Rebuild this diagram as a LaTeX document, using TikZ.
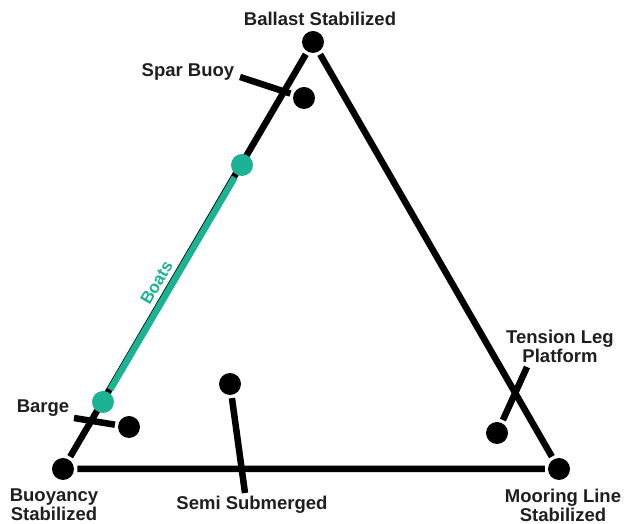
\documentclass[tikz,border=0pt]{standalone}
\usepackage{fontspec}
\setmainfont{Liberation Sans}
\definecolor{boatgreen}{RGB}{27,179,148}

\begin{document}
\begin{tikzpicture}[x=1pt, y=1pt, line width=6.5pt, dot/.style = {circle, fill, inner sep=0pt, minimum size=22pt}, lbl/.style = {font=\fontsize{18.5}{19}\selectfont\bfseries, align=center, text=black!88, inner sep=0pt}]
    \useasboundingbox (0,0) rectangle (624,524);
    % corners of the triangle
    \node[dot] (ballast) at (313,482) {};
    \node[dot] (buoyancy) at (63,55) {};
    \node[dot] (mooring) at (559,55) {};
    \draw (buoyancy) -- (ballast) -- (mooring) -- (buoyancy);
    \node[lbl] (ballastlbl) at (320,505) {Ballast Stabilized};
    \node[lbl] (buoyancylbl) at (54,19) {Buoyancy\\Stabilized};
    \node[lbl] (mooringlbl) at (563,19) {Mooring Line\\Stabilized};
    % boats along the left side
    \node[dot, boatgreen] (boat1) at (103,122) {};
    \node[dot, boatgreen] (boat2) at (242,359) {};
    \draw[boatgreen] (boat1) -- node[sloped, above=5pt, pos=0.47, lbl, text=boatgreen, font=\fontsize{17}{17}\selectfont\bfseries] {Boats} (boat2);
    % platforms
    \node[dot] (spar) at (304,426) {};
    \coordinate (sparend) at (240,447);
    \node[lbl] (sparlbl) at (188,452) {Spar Buoy};
    \draw (sparend) -- (spar);
    \node[dot] (barge) at (129,97) {};
    \coordinate (bargeend) at (74,106);
    \node[lbl] (bargelbl) at (43,116) {Barge};
    \draw (bargeend) -- (barge);
    \node[dot] (semi) at (230,140) {};
    \coordinate (semiend) at (245,31);
    \node[lbl] (semilbl) at (252,19) {Semi Submerged};
    \draw (semiend) -- (semi);
    \node[dot] (tlp) at (497,91) {};
    \coordinate (tlpend) at (527,157);
    \node[lbl] (tlplbl) at (560,178) {Tension Leg\\Platform};
    \draw (tlpend) -- (tlp);
\end{tikzpicture}
\end{document}
